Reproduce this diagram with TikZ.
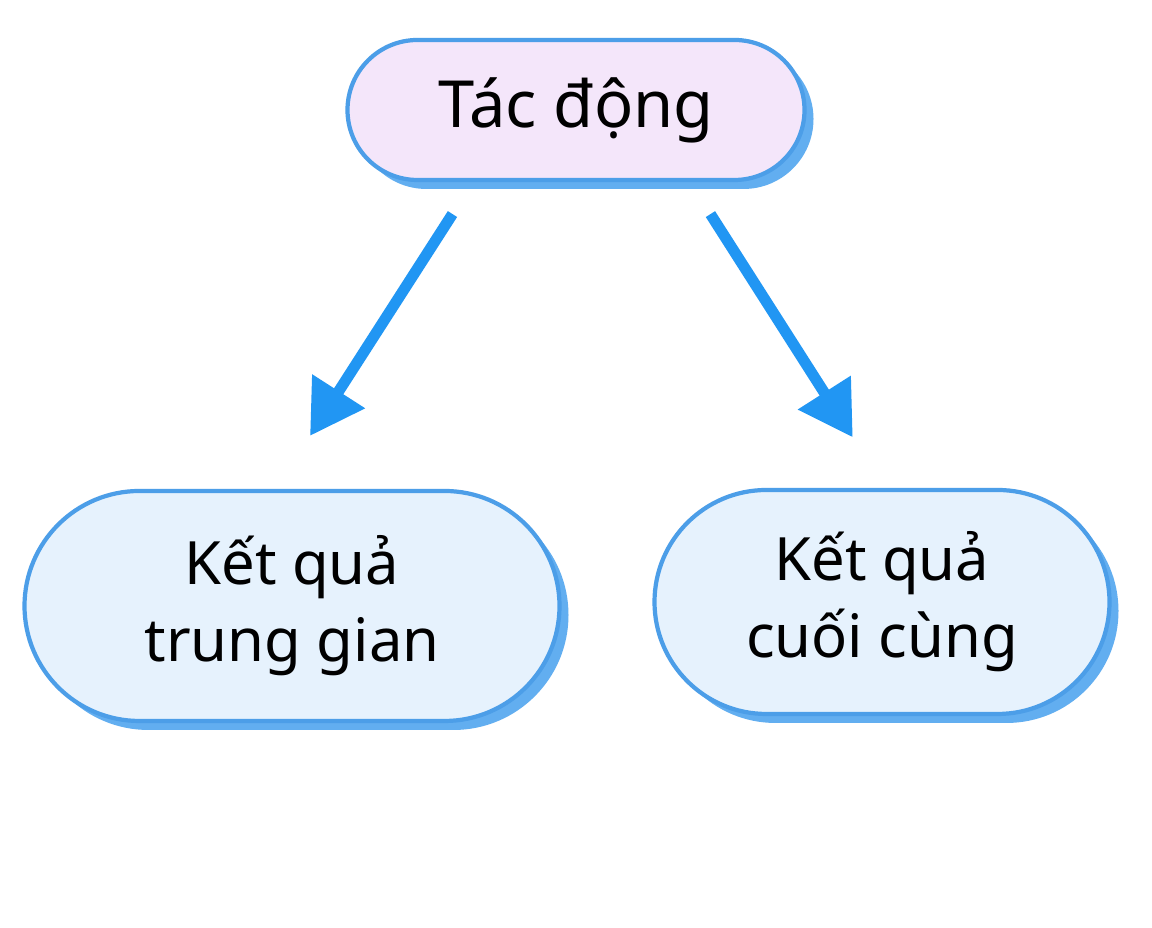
\documentclass[tikz,border=0pt]{standalone}
\usepackage{fontspec}
\setmainfont{Noto Sans}
\usepackage{tikz}
\usetikzlibrary{shapes.misc}
\usetikzlibrary{shadows}
\usetikzlibrary{arrows.meta}

\definecolor{edgeblue}{HTML}{4C9EE8}
\definecolor{shadeblue}{HTML}{62AEF0}
\definecolor{arrowblue}{HTML}{2196F3}
\definecolor{causefill}{HTML}{F4E6FA}
\definecolor{effectfill}{HTML}{E6F2FD}

\begin{document}
\begin{tikzpicture}[
    pill/.style={rounded rectangle, draw=edgeblue, line width=1.2pt, inner sep=0pt,
      align=center, text=black,
      drop shadow={shadow xshift=0.09cm, shadow yshift=-0.09cm, fill=shadeblue, opacity=1}},
    flow/.style={draw=arrowblue, line width=0.11cm, -{Triangle[length=0.53cm,width=0.6cm]}}
  ]
  \useasboundingbox [fill=white] (0,0) rectangle (11.52,9.28);
  \node [pill, fill=causefill, minimum width=4.57cm, minimum height=1.40cm,
    font={\fontsize{18.5}{22}\selectfont}] (cause) at (5.76,8.18) {Tác động};
  \node [pill, fill=effectfill, minimum width=5.35cm, minimum height=2.30cm,
    font={\fontsize{17}{22}\selectfont}] (mid) at (2.92,3.22) {Kết quả\\trung gian};
  \node [pill, fill=effectfill, minimum width=4.55cm, minimum height=2.24cm,
    font={\fontsize{17}{22}\selectfont}] (final) at (8.82,3.26) {Kết quả\\cuối cùng};
  \draw [flow, shorten <=0.38cm, shorten >=0.63cm] ([xshift=-1.03cm]cause.south) -- ([xshift=-0.16cm]mid.north);
  \draw [flow, shorten <=0.38cm, shorten >=0.60cm] ([xshift=1.14cm]cause.south) -- ([xshift=0.03cm]final.north);
\end{tikzpicture}
\end{document}
